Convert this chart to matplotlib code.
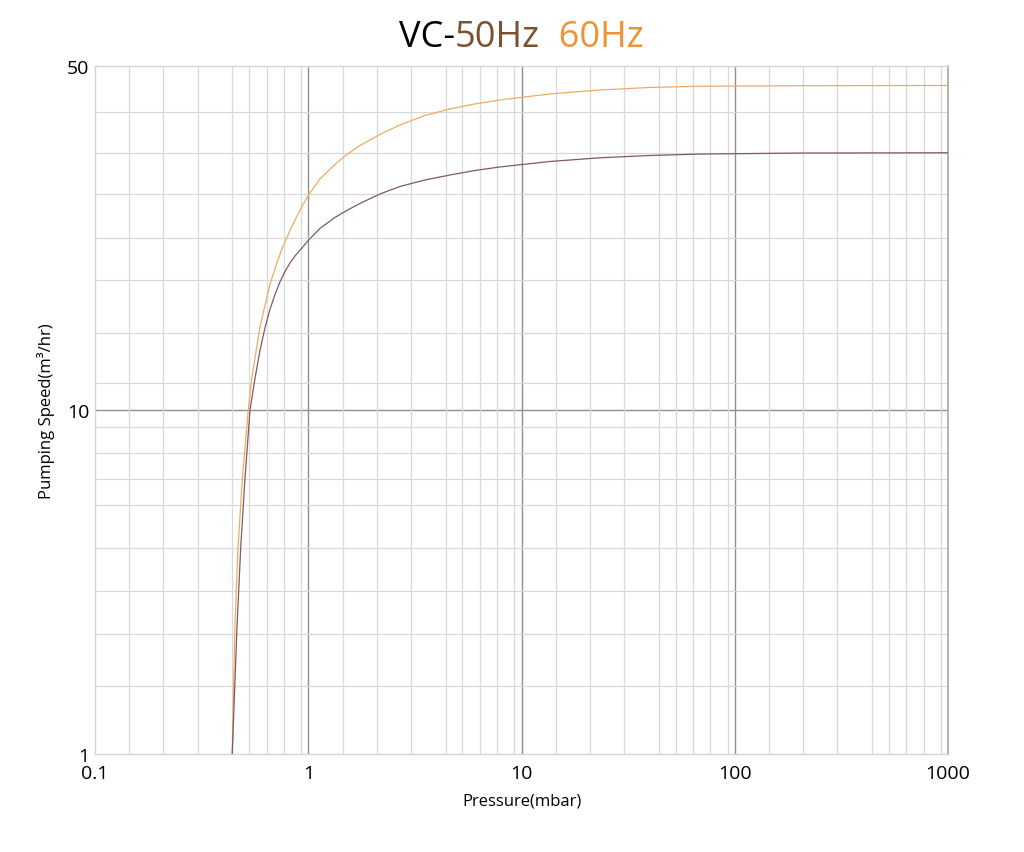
import numpy as np
import matplotlib
matplotlib.use("Agg")
import matplotlib.pyplot as plt
from matplotlib.ticker import NullFormatter

plt.rcParams["font.family"] = ["Open Sans", "DejaVu Sans"]

# pressure (mbar) / pumping speed (m3/hr)
p_50 = [0.440, 0.462, 0.482, 0.505, 0.533, 0.5625, 0.594, 0.627, 0.661, 0.698,
        0.7365, 0.778, 0.821, 0.866, 1.0, 1.134, 1.334, 1.486, 1.747, 2.168,
        2.691, 3.525, 4.616, 6.046, 7.918, 13.59, 23.32, 40.0, 68.6, 202, 1000]
s_50 = [1.0, 2.25, 3.97, 6.32, 10.0, 11.59, 13.23, 14.71, 16.0, 17.17,
        18.2, 19.12, 19.89, 20.55, 22.1, 23.38, 24.61, 25.31, 26.28, 27.47,
        28.45, 29.33, 30.02, 30.66, 31.17, 31.98, 32.54, 32.89, 33.11, 33.27, 33.31]

p_60 = [0.440, 0.452, 0.468, 0.491, 0.523, 0.543, 0.594, 0.661, 0.706, 0.750,
        0.821, 0.9145, 1.0, 1.134, 1.334, 1.486, 1.747, 2.168, 2.691, 3.525,
        4.616, 6.046, 7.918, 13.59, 23.32, 40.0, 68.6, 202, 1000]
s_60 = [1.0, 2.25, 3.97, 6.32, 10.0, 11.59, 14.78, 17.99, 19.66, 21.19,
        23.16, 25.49, 27.28, 29.47, 31.54, 32.82, 34.47, 36.29, 37.94, 39.66,
        40.89, 41.86, 42.65, 43.86, 44.69, 45.22, 45.47, 45.59, 45.64]

x_major = [0.1, 1, 10, 100, 1000]
x_labels = ["0.1", "1", "10", "100", "1000"]
y_major = [1, 10, 50]
y_labels = ["1", "10", "50"]

# where the light grid lines sit inside each section (fraction of the section)
x_minor_frac = [0.161, 0.320, 0.481, 0.644, 0.723, 0.805, 0.886, 0.967]
y_low_frac = [0.199, 0.349, 0.475, 0.599, 0.724, 0.800, 0.875, 0.951]
y_high_frac = [0.077, 0.224, 0.377, 0.5, 0.627, 0.748, 0.865]


# y axis: log 1..10 in the lower half, log 10..50 in the upper half
def fwd(y):
    y = np.clip(np.asarray(y, dtype=float), 1e-9, None)
    return np.where(y <= 10, np.log10(y), 1 + np.log10(y / 10) / np.log10(5))


def inv(t):
    t = np.asarray(t, dtype=float)
    return np.where(t <= 1, 10.0 ** t, 10.0 * 5.0 ** (t - 1))


fig = plt.figure(figsize=(10.24, 8.53), dpi=100)
ax = fig.add_axes([0.0928, 0.1149, 0.8330, 0.8066])

ax.set_xscale("log")
ax.set_yscale("function", functions=(fwd, inv))
ax.set_xlim(0.1, 1000)
ax.set_ylim(1, 50)

x_minor = [10.0 ** (d + f) for d in range(-1, 3) for f in x_minor_frac]
y_minor = [10.0 ** f for f in y_low_frac] + [10.0 * 5.0 ** f for f in y_high_frac]

ax.set_xticks(x_major)
ax.set_xticklabels(x_labels)
ax.set_xticks(x_minor, minor=True)
ax.set_yticks(y_major)
ax.set_yticklabels(y_labels)
ax.set_yticks(y_minor, minor=True)
ax.xaxis.set_minor_formatter(NullFormatter())
ax.yaxis.set_minor_formatter(NullFormatter())
ax.tick_params(which="both", length=0)
ax.tick_params(axis="x", labelsize=14, pad=7)
ax.tick_params(axis="y", labelsize=14, pad=4)

ax.grid(which="minor", color="#d9d9d9", linewidth=0.9)
ax.grid(which="major", visible=False)
for v in x_major[1:-1]:
    ax.axvline(v, color="#8f8f8f", linewidth=1.0, zorder=1)
ax.axhline(10, color="#8f8f8f", linewidth=1.0, zorder=1)

for side in ["left", "top", "bottom"]:
    ax.spines[side].set_color("#d4d4d4")
    ax.spines[side].set_linewidth(1.0)
ax.spines["right"].set_color("#a6a6a6")
ax.spines["right"].set_linewidth(1.2)

ax.plot(p_60, s_60, color="#f0aa66", linewidth=0.9, zorder=3)
ax.plot(p_50, s_50, color="#7e5b5e", linewidth=0.9, zorder=3)

ax.set_xlabel("Pressure(mbar)", fontsize=12, labelpad=8)
ax.set_ylabel("Pumping Speed(m³/hr)", fontsize=12, labelpad=9)

# title in three colours, centred over the axes
parts = [("VC-", "#000000"), ("50Hz", "#7a5230"), ("  60Hz", "#ee9331")]
texts = [fig.text(0, 0.955, s, color=c, fontsize=26, ha="left", va="center")
         for s, c in parts]
fig.canvas.draw()
r = fig.canvas.get_renderer()
widths = [t.get_window_extent(r).width for t in texts]
x = 521 - sum(widths) / 2
for t, w in zip(texts, widths):
    t.set_x(x / fig.bbox.width)
    x += w

fig.savefig("out.png", dpi=100)
